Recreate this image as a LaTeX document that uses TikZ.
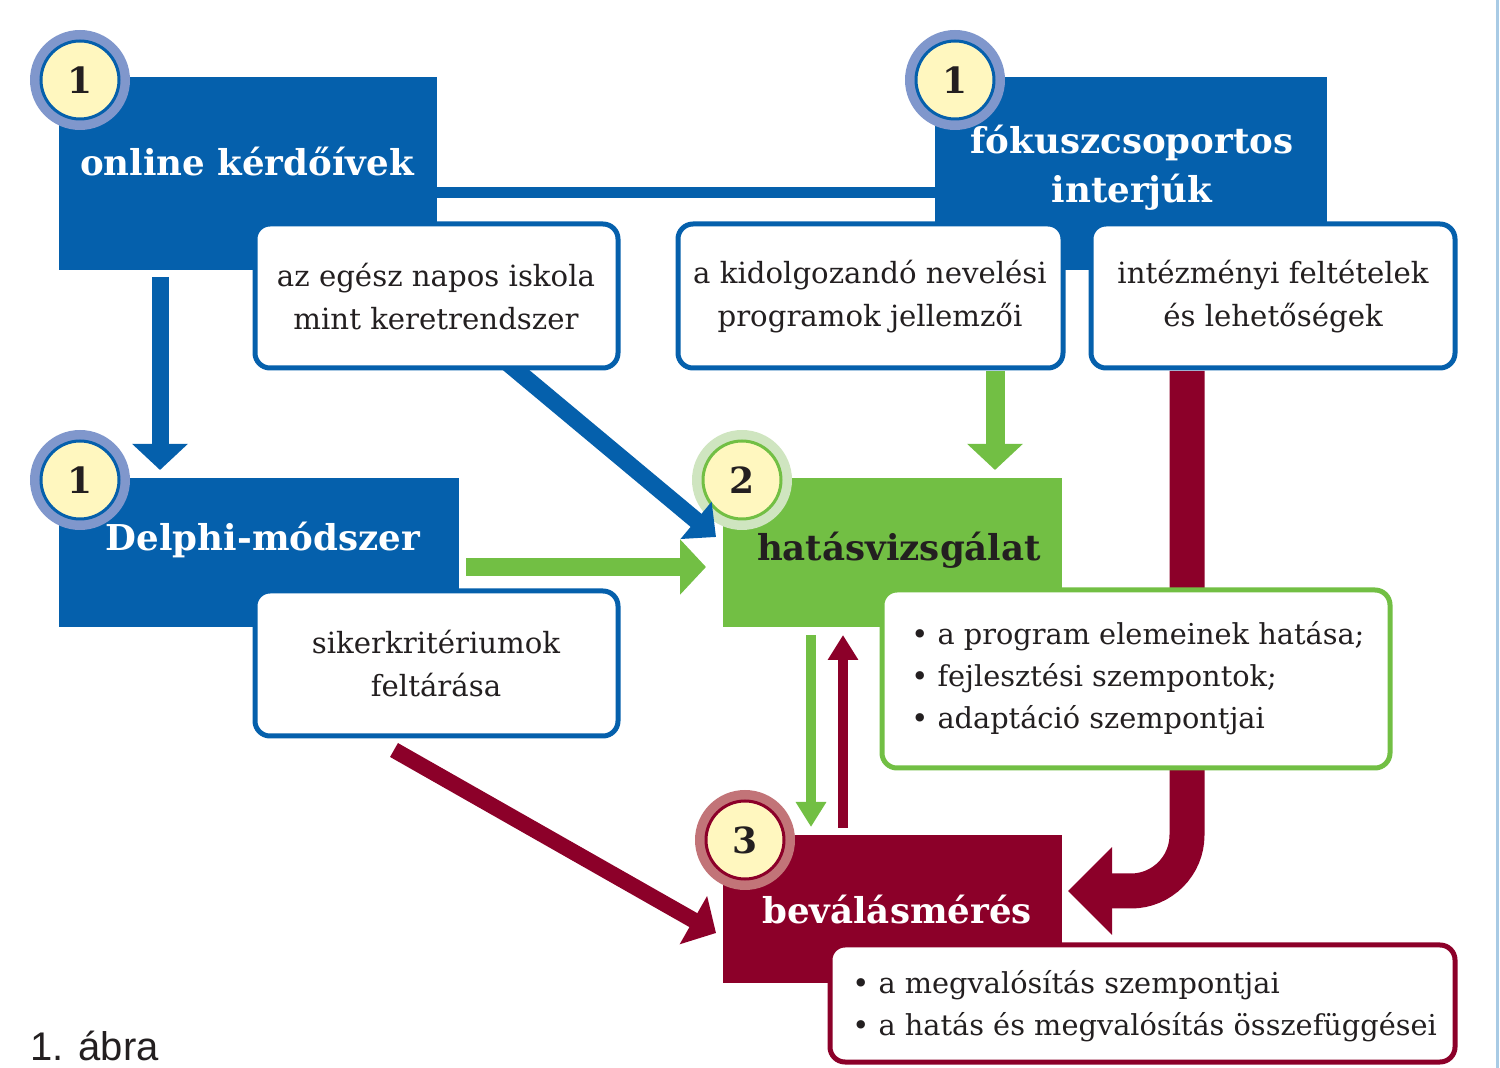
\documentclass[tikz,border=0pt]{standalone}
\usepackage{fontspec}
\setmainfont{DejaVu Serif}
\newfontfamily\capfont{Liberation Sans}
\usetikzlibrary{arrows.meta}
\definecolor{cblue}{HTML}{0560AC}
\definecolor{cgreen}{HTML}{72BF44}
\definecolor{cred}{HTML}{8C0029}
\definecolor{cyel}{HTML}{FFF7BF}
\definecolor{hblue}{HTML}{8097CC}
\definecolor{hgreen}{HTML}{CFE5C0}
\definecolor{hred}{HTML}{C27478}
\definecolor{ink}{HTML}{231F20}
\definecolor{edgeblue}{HTML}{A9CBE5}
\begin{document}
\begin{tikzpicture}[x=0.5pt,y=-0.5pt,
  blockbox/.style={anchor=north west, inner sep=0pt, outer sep=0pt, draw=none},
  wbox/.style={anchor=north west, inner sep=0pt, outer sep=0pt, draw, line width=2.5pt, fill=white, rounded corners=7.5pt},
  title/.style={font=\bfseries\fontsize{17.8}{24.5}\selectfont, align=center, inner sep=0pt},
  body/.style={font=\fontsize{14.6}{21.5}\selectfont, text=ink, align=center, inner sep=0pt},
  bullets/.style={font=\fontsize{14.4}{21}\selectfont, text=ink, align=left, inner sep=0pt, anchor=west},
  halo/.style={circle, inner sep=0pt, minimum size=50pt},
  disc/.style={circle, inner sep=0pt, minimum size=39pt, line width=1.5pt, draw, fill=cyel, text=ink, font=\bfseries\fontsize{18}{18}\selectfont},
  bigtip/.style={-{Triangle[width=27pt,length=13pt]}},
  smalltip/.style={line width=5pt, -{Triangle[width=14.5pt,length=12.5pt]}},
]
\useasboundingbox (0,0) rectangle (1500,1068);

% coloured blocks
\node[blockbox, fill=cblue, minimum width=189pt, minimum height=96.5pt] (boxA) at (59,77) {};
\node[blockbox, fill=cblue, minimum width=196pt, minimum height=96.5pt] (boxB) at (935,77) {};
\node[blockbox, fill=cblue, minimum width=200pt, minimum height=74.5pt] (boxD) at (59,478) {};
\node[blockbox, fill=cgreen, minimum width=169.5pt, minimum height=74.5pt] (boxH) at (723,478) {};
\node[blockbox, fill=cred, minimum width=169.5pt, minimum height=74pt] (boxR) at (723,835) {};

% link line between the two top blocks
\coordinate (lA) at (437,192.5);
\coordinate (lB) at (935,192.5);
\draw[cblue, line width=5.5pt] (lA) -- (lB);

% big curved maroon arrow
\coordinate (rs) at (1187,371);
\coordinate (rt) at (1068,891);
\draw[cred, line width=17.5pt, rounded corners=28pt, -{Triangle[width=42.5pt,length=22pt]}] (rs) |- (rt);

% white boxes
\node[wbox, draw=cblue, minimum width=181.5pt, minimum height=72pt] (C1) at (255,224) {};
\node[wbox, draw=cblue, minimum width=192.5pt, minimum height=72pt] (C2) at (678,224) {};
\node[wbox, draw=cblue, minimum width=182pt, minimum height=72pt] (C3) at (1091,224) {};
\node[wbox, draw=cblue, minimum width=181.5pt, minimum height=72.5pt] (D1) at (255,591) {};
\node[wbox, draw=cgreen, minimum width=254pt, minimum height=89pt] (H1) at (882,590) {};
\node[wbox, draw=cred, minimum width=312.5pt, minimum height=58.5pt] (E1) at (830,945) {};

% texts
\node[title, text=white] (tA) at (247,162) {online kérdőívek};
\node[title, text=white] (tB) at (1132,168) {fókuszcsoportos\\interjúk};
\node[title, text=white] (tD) at (263,540) {Delphi-módszer};
\node[title, text=ink] (tH) at (899,550) {hatásvizsgálat};
\node[title, text=white] (tR) at (897,910) {beválásmérés};
\node[body] (tC1) at (436,297) {az egész napos iskola\\mint keretrendszer};
\node[body] (tC2) at (870,297) {a kidolgozandó nevelési\\programok jellemzői};
\node[body] (tC3) at (1273,297) {intézményi feltételek\\és lehetőségek};
\node[body] (tD1) at (436,664) {sikerkritériumok\\feltárása};
\node[bullets] (tH1) at (911,678) {• a program elemeinek hatása;\\• fejlesztési szempontok;\\• adaptáció szempontjai};
\node[bullets] (tE1) at (852,1006) {• a megvalósítás szempontjai\\• a hatás és megvalósítás összefüggései};
\node[font=\capfont\fontsize{20}{20}\selectfont, text=ink, anchor=base west, inner sep=0pt] (cap) at (30,1060) {1. ábra};

% badges
\node[halo, fill=hblue] (hA) at (80,80) {};
\node[disc, draw=cblue] (bA) at (80,80) {1};
\node[halo, fill=hblue] (hB) at (955,80) {};
\node[disc, draw=cblue] (bB) at (955,80) {1};
\node[halo, fill=hblue] (hD) at (80,480) {};
\node[disc, draw=cblue] (bD) at (80,480) {1};
\node[halo, fill=hgreen] (hH) at (742,480) {};
\node[disc, draw=cgreen] (bH) at (742,480) {2};
\node[halo, fill=hred] (hR) at (745,840) {};
\node[disc, draw=cred] (bR) at (745,840) {3};

% arrows
\coordinate (a1s) at (160,277);
\coordinate (a1e) at (160,470);
\draw[cblue, line width=8.5pt, bigtip] (a1s) -- (a1e);

\coordinate (g1s) at (995,371);
\coordinate (g1e) at (995,470);
\draw[cgreen, line width=9.5pt, bigtip] (g1s) -- (g1e);

\coordinate (g2s) at (466,567);
\coordinate (g2e) at (706,567);
\draw[cgreen, line width=9pt, bigtip] (g2s) -- (g2e);

\begin{scope}
\clip (0,370.5) rectangle (1500,1068);
\coordinate (bds) at (500.4,357);
\coordinate (bde) at (716,537);
\draw[cblue, line width=8.5pt, -{Triangle[width=23.5pt,length=13pt]}] (bds) -- (bde);
\end{scope}

\coordinate (rds) at (394,750);
\coordinate (rde) at (716,933);
\draw[cred, line width=8pt, -{Triangle[width=27pt,length=13pt]}] (rds) -- (rde);

\coordinate (sgs) at (811,635);
\coordinate (sge) at (811,827);
\draw[cgreen, smalltip] (sgs) -- (sge);
\coordinate (srs) at (843,828);
\coordinate (sre) at (843,635);
\draw[cred, smalltip] (srs) -- (sre);

% right edge line
\coordinate (e1) at (1497,0);
\coordinate (e2) at (1497,1068);
\draw[edgeblue, line width=1.5pt] (e1) -- (e2);
\end{tikzpicture}
\end{document}
